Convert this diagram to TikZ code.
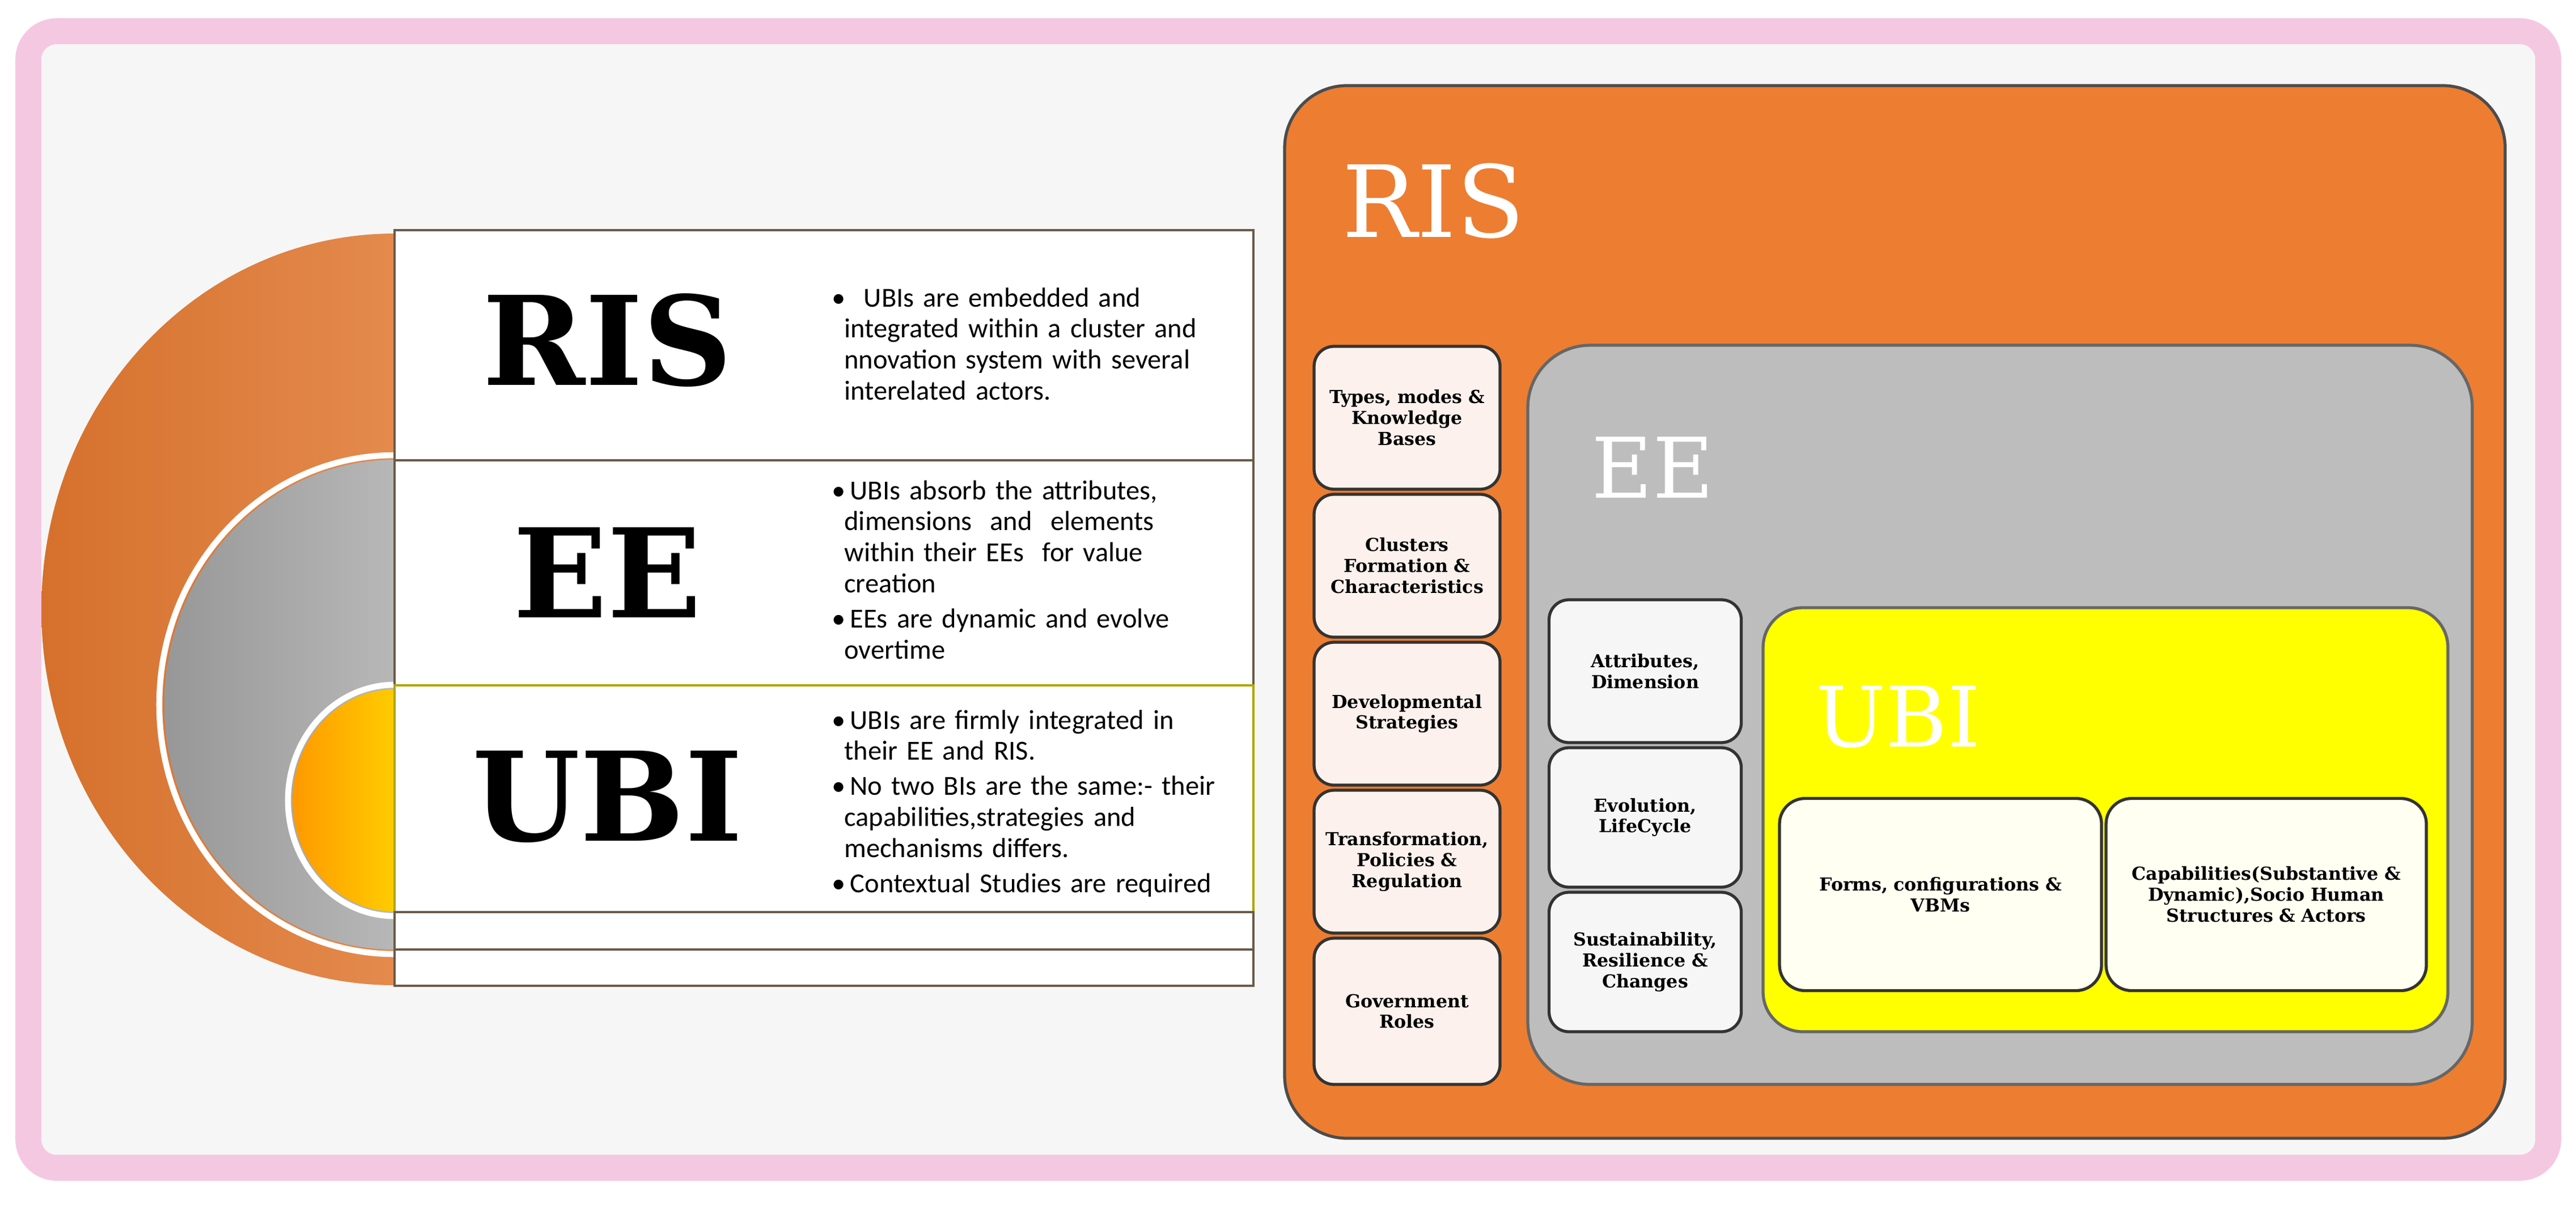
\documentclass[tikz,border=0pt]{standalone}
\usepackage{fontspec}
\setmainfont{DejaVu Serif}
\newfontfamily\bodyfont{Carlito}
\newfontfamily\slabfont{DejaVu Serif}
\definecolor{risor}{HTML}{ED7D31}
\definecolor{eegray}{HTML}{BDBDBD}
\definecolor{ubiyel}{HTML}{FFFF00}
\definecolor{pinkfr}{HTML}{F5C8E2}
\definecolor{peach}{HTML}{FCF1EC}
\definecolor{lightg}{HTML}{F6F6F6}
\definecolor{cream}{HTML}{FFFFF2}
\definecolor{rule}{HTML}{6B5A4A}
\tikzset{
  cell/.style={draw=rule, line width=1.2pt, fill=white, rectangle, inner sep=0pt},
  smallbox/.style={draw=black!80, line width=1.5pt, rounded corners=0.35cm, align=center, inner sep=2pt, font=\slabfont\bfseries\fontsize{9}{10.5}\selectfont, text width=3.1cm},
  bigtitle/.style={font=\slabfont\bfseries\fontsize{62}{62}\selectfont, text=black},
  wtitle/.style={font=\slabfont\fontsize{50}{50}\selectfont, text=white},
  bullets/.style={font=\bodyfont\fontsize{13.8}{15.6}\selectfont, text width=7.4cm, align=left, anchor=north west},
  panel/.style={rounded corners=1.1cm, line width=1.5pt}
}
\begin{document}
\begin{tikzpicture}[x=1cm,y=-1cm]
\useasboundingbox (0,0) rectangle (45.44,21.30);
% frame
\fill[white] (0,0) rectangle (45.44,21.30);
\draw[pinkfr, line width=13pt, rounded corners=0.5cm, fill=lightg] (0.5,0.55) rectangle (44.95,20.6);
% left half discs
\begin{scope}
\clip (0,0) rectangle (6.96,21.3);
\shade[left color=risor!90!black, right color=risor!70!white] (6.96,10.75) ellipse [x radius=6.23cm, y radius=6.63cm];
\draw[white, line width=3pt] (6.96,12.43) ellipse [x radius=4.15cm, y radius=4.4cm];
\shade[left color=eegray!80!black, right color=eegray!60!white] (6.96,12.43) ellipse [x radius=4.06cm, y radius=4.32cm];
\draw[white, line width=3pt] (6.96,14.12) ellipse [x radius=1.88cm, y radius=2.04cm];
\shade[left color=orange!80!yellow, right color=yellow] (6.96,14.12) ellipse [x radius=1.80cm, y radius=1.96cm];
\end{scope}
% table
\node[cell, minimum width=15.15cm, minimum height=4.06cm] (r1) at (14.535,6.09) {};
\node[cell, minimum width=15.15cm, minimum height=3.97cm] (r2) at (14.535,10.105) {};
\node[cell, draw=olive!70!yellow, minimum width=15.15cm, minimum height=4.0cm] (r3) at (14.535,14.09) {};
\node[cell, minimum width=15.15cm, minimum height=0.66cm] (r4) at (14.535,16.42) {};
\node[cell, minimum width=15.15cm, minimum height=0.64cm] (r5) at (14.535,17.07) {};
\node[bigtitle] (tris) at (10.72,6.0) {RIS};
\node[bigtitle] (tee) at (10.72,10.1) {EE};
\node[bigtitle] (tubi) at (10.72,14.06) {UBI};
\node[bullets] (b1) at (14.55,4.95) {\textbullet\ \ UBIs are embedded and\\\hspace*{0.22cm}integrated within a cluster and\\\hspace*{0.22cm}nnovation system with several\\\hspace*{0.22cm}interelated actors.};
\node[bullets] (b2) at (14.55,8.35) {\textbullet\,UBIs absorb the attributes,\\\hspace*{0.22cm}dimensions\ \ and\ \ elements\\\hspace*{0.22cm}within their EEs\ \ for value\\\hspace*{0.22cm}creation\\[2pt]\textbullet\,EEs are dynamic and evolve\\\hspace*{0.22cm}overtime};
\node[bullets] (b3) at (14.55,12.4) {\textbullet\,UBIs are firmly integrated in\\\hspace*{0.22cm}their EE and RIS.\\[2pt]\textbullet\,No two BIs are the same:- their\\\hspace*{0.22cm}capabilities,strategies and\\\hspace*{0.22cm}mechanisms differs.\\[2pt]\textbullet\,Contextual Studies are required};
% right panels
\node[panel, draw=black!70, fill=risor, minimum width=21.53cm, minimum height=18.57cm] (pris) at (33.425,10.795) {};
\node[wtitle, anchor=west] (lris) at (23.55,3.55) {RIS};
\node[panel, draw=black!60, fill=eegray, minimum width=16.66cm, minimum height=13.04cm] (pee) at (35.28,12.61) {};
\node[wtitle, font=\slabfont\fontsize{42}{42}\selectfont, anchor=west] (lee) at (27.95,8.25) {EE};
\node[panel, rounded corners=0.7cm, draw=black!60, fill=ubiyel, minimum width=12.08cm, minimum height=7.48cm] (pubi) at (37.14,14.46) {};
\node[wtitle, font=\slabfont\fontsize{42}{42}\selectfont, anchor=west] (lubi) at (31.9,12.65) {UBI};
% RIS column
\node[smallbox, fill=peach, minimum width=3.28cm, minimum height=2.52cm] (k1) at (24.82,7.37) {Types, modes \&\\Knowledge\\Bases};
\node[smallbox, fill=peach, minimum width=3.28cm, minimum height=2.52cm] (k2) at (24.82,9.98) {Clusters\\Formation \&\\Characteristics};
\node[smallbox, fill=peach, minimum width=3.28cm, minimum height=2.52cm] (k3) at (24.82,12.59) {Developmental\\Strategies};
\node[smallbox, fill=peach, minimum width=3.28cm, minimum height=2.52cm] (k4) at (24.82,15.2) {Transformation,\\Policies \&\\Regulation};
\node[smallbox, fill=peach, minimum width=3.28cm, minimum height=2.58cm] (k5) at (24.82,17.84) {Government\\Roles};
% EE column
\node[smallbox, fill=lightg, minimum width=3.39cm, minimum height=2.52cm] (e1) at (29.02,11.84) {Attributes,\\Dimension};
\node[smallbox, fill=lightg, minimum width=3.39cm, minimum height=2.46cm] (e2) at (29.02,14.42) {Evolution,\\LifeCycle};
\node[smallbox, fill=lightg, minimum width=3.39cm, minimum height=2.46cm] (e3) at (29.02,16.97) {Sustainability,\\Resilience \&\\Changes};
% UBI boxes
\node[smallbox, fill=cream, text width=5.3cm, minimum width=5.68cm, minimum height=3.39cm, rounded corners=0.45cm] (u1) at (34.23,15.78) {Forms, configurations \&\\VBMs};
\node[smallbox, fill=cream, text width=5.3cm, minimum width=5.65cm, minimum height=3.39cm, rounded corners=0.45cm] (u2) at (39.975,15.78) {Capabilities(Substantive \&\\Dynamic),Socio Human\\Structures \& Actors};
\end{tikzpicture}
\end{document}
